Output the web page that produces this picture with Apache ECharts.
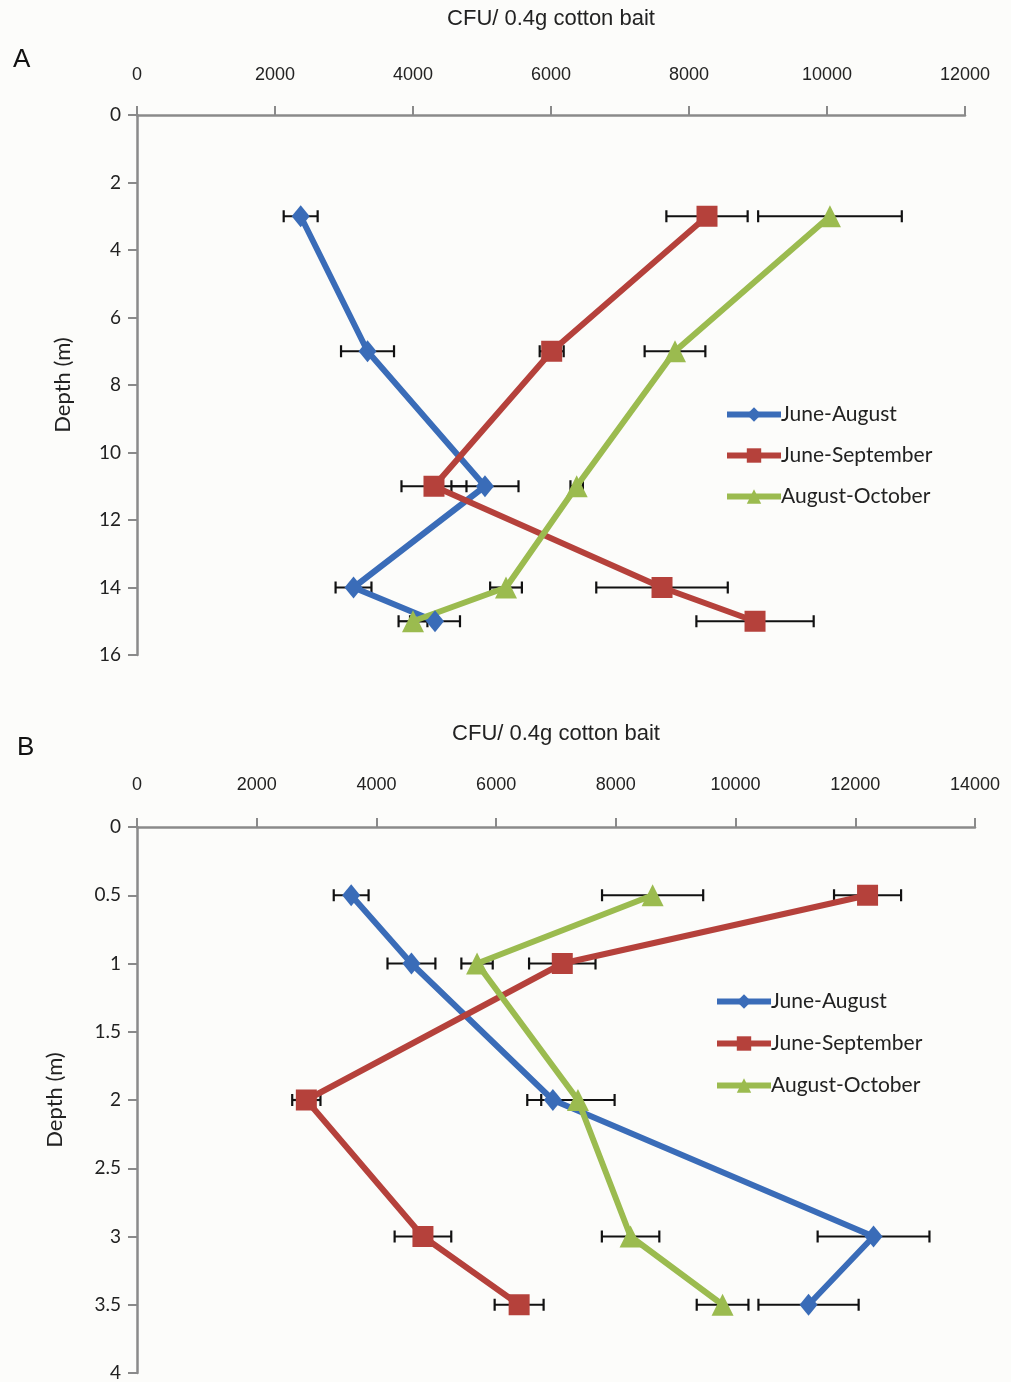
<!DOCTYPE html>
<html><head><meta charset="utf-8">
<script src="https://cdn.jsdelivr.net/npm/echarts@6/dist/echarts.min.js"></script>
<style>html,body{margin:0;padding:0;background:#fcfcfa}#c{width:1011px;height:1382px}</style>
</head><body><div id="c"></div>
<script>
const seriesNames = ['June-August','June-September','August-October'];
// Panel A
const depthA = [3, 7, 11, 14, 15];
const juneAugA = [2372, 3341, 5043, 3138, 4319];
const juneAugAErr = [246, 384, 486, 260, 362];
const juneSepA = [8261, 6010, 4304, 7609, 8957];
const juneSepAErr = [589, 174, 471, 953, 850];
const augOctA = [10043, 7797, 6372, 5348, 4000];
const augOctAErr = [1041, 440, 90, 230, 209];
// Panel B
const depthB = [0.5, 1, 2, 3, 3.5];
const juneAugB = [3578, 4585, 6948, 12305, 11219];
const juneAugBErr = [291, 400, 428, 934, 837];
const juneSepB = [12205, 7105, 2829, 4777, 6384];
const juneSepBErr = [560, 555, 236, 473, 409];
const augOctB = [8614, 5681, 7366, 8246, 9783];
const augOctBErr = [845, 262, 613, 480, 432];

const colors = ['#3a6cb8', '#b5413b', '#9bbb4f'];
const symbols = ['diamond', 'rect', 'triangle'];
const symSizes = [[18, 22], 21, 22];
const FONT = "'Liberation Sans Narrow','Liberation Sans',Arial,sans-serif";
const FONT2 = "Lato,'Open Sans',sans-serif";

const chart = echarts.init(document.getElementById('c'), null, {renderer: 'canvas'});

function lineSeries(name, idx, vals, depths, axisIdx) {
  return {
    type: 'line', name: name, xAxisIndex: axisIdx, yAxisIndex: axisIdx,
    data: vals.map((v, i) => [v, depths[i]]),
    symbol: symbols[idx], symbolSize: symSizes[idx],
    lineStyle: {color: colors[idx], width: 6},
    itemStyle: {color: colors[idx]},
    z: 3, animation: false
  };
}
function errSeries(vals, errs, depths, axisIdx) {
  return {
    type: 'custom', xAxisIndex: axisIdx, yAxisIndex: axisIdx, z: 2, silent: true,
    data: vals.map((v, i) => [v, depths[i], errs[i]]),
    renderItem: function (params, api) {
      const x = api.value(0), y = api.value(1), e = api.value(2);
      const p1 = api.coord([x - e, y]);
      const p2 = api.coord([x + e, y]);
      const st = {stroke: '#111', lineWidth: 2.2};
      const h = 6;
      return {type: 'group', children: [
        {type: 'line', shape: {x1: p1[0], y1: p1[1], x2: p2[0], y2: p2[1]}, style: st},
        {type: 'line', shape: {x1: p1[0], y1: p1[1] - h, x2: p1[0], y2: p1[1] + h}, style: st},
        {type: 'line', shape: {x1: p2[0], y1: p2[1] - h, x2: p2[0], y2: p2[1] + h}, style: st}
      ]};
    },
    animation: false
  };
}
function xAxis(gridIndex, max, gap, margin) {
  return {
    type: 'value', gridIndex: gridIndex, position: 'top', min: 0, max: max, interval: 2000,
    name: 'CFU/ 0.4g cotton bait', nameLocation: 'middle', nameGap: gap,
    nameTextStyle: {fontFamily: FONT, fontSize: 22, color: '#222'},
    axisLine: {show: true, lineStyle: {color: '#8a8a8a', width: 2.5}},
    axisTick: {show: true, length: 9, lineStyle: {color: '#8a8a8a', width: 2}},
    axisLabel: {fontFamily: FONT, fontSize: 18, color: '#222', margin: margin,
      formatter: v => String(v)},
    splitLine: {show: false}
  };
}
function yAxis(gridIndex, max, interval, gap) {
  return {
    type: 'value', gridIndex: gridIndex, inverse: true, min: 0, max: max, interval: interval,
    name: 'Depth (m)', nameLocation: 'middle', nameGap: gap,
    nameTextStyle: {fontFamily: FONT2, fontSize: 22, color: '#222'},
    axisLine: {show: true, onZero: false, lineStyle: {color: '#8a8a8a', width: 2.5}},
    axisTick: {show: true, length: 9, lineStyle: {color: '#8a8a8a', width: 2}},
    axisLabel: {fontFamily: FONT2, fontSize: 19, color: '#222', margin: 16},
    splitLine: {show: false}
  };
}
function legend(left, top, gap) {
  return {
    orient: 'vertical', left: left, top: top, itemWidth: 54, itemHeight: 18, itemGap: gap,
    data: seriesNames, selectedMode: false,
    lineStyle: {width: 6},
    textStyle: {fontFamily: FONT2, fontSize: 21, color: '#222', padding: [0, 0, 0, -5]}
  };
}

const option = {
  backgroundColor: '#fcfcfa',
  animation: false,
  title: [
    {text: 'A', left: 8, top: 42, textStyle: {fontFamily: FONT, fontSize: 26, fontWeight: 'normal', color: '#111'}},
    {text: 'B', left: 12, top: 730, textStyle: {fontFamily: FONT, fontSize: 26, fontWeight: 'normal', color: '#111'}}
  ],
  grid: [
    {left: 137, top: 115, width: 828, height: 540, outerBoundsMode: 'none', containLabel: false},
    {left: 137, top: 827, width: 838, height: 546, outerBoundsMode: 'none', containLabel: false}
  ],
  xAxis: [xAxis(0, 12000, 85, 31), xAxis(1, 14000, 82, 33)],
  yAxis: [yAxis(0, 16, 2, 63), yAxis(1, 4, 0.5, 71)],
  legend: [legend(719, 399, 20), legend(709, 986, 21)],
  series: [
    errSeries(juneAugA, juneAugAErr, depthA, 0),
    errSeries(juneSepA, juneSepAErr, depthA, 0),
    errSeries(augOctA, augOctAErr, depthA, 0),
    lineSeries(seriesNames[0], 0, juneAugA, depthA, 0),
    lineSeries(seriesNames[1], 1, juneSepA, depthA, 0),
    lineSeries(seriesNames[2], 2, augOctA, depthA, 0),
    errSeries(juneAugB, juneAugBErr, depthB, 1),
    errSeries(juneSepB, juneSepBErr, depthB, 1),
    errSeries(augOctB, augOctBErr, depthB, 1),
    lineSeries(seriesNames[0], 0, juneAugB, depthB, 1),
    lineSeries(seriesNames[1], 1, juneSepB, depthB, 1),
    lineSeries(seriesNames[2], 2, augOctB, depthB, 1)
  ]
};
chart.setOption(option);
</script>
</body></html>
